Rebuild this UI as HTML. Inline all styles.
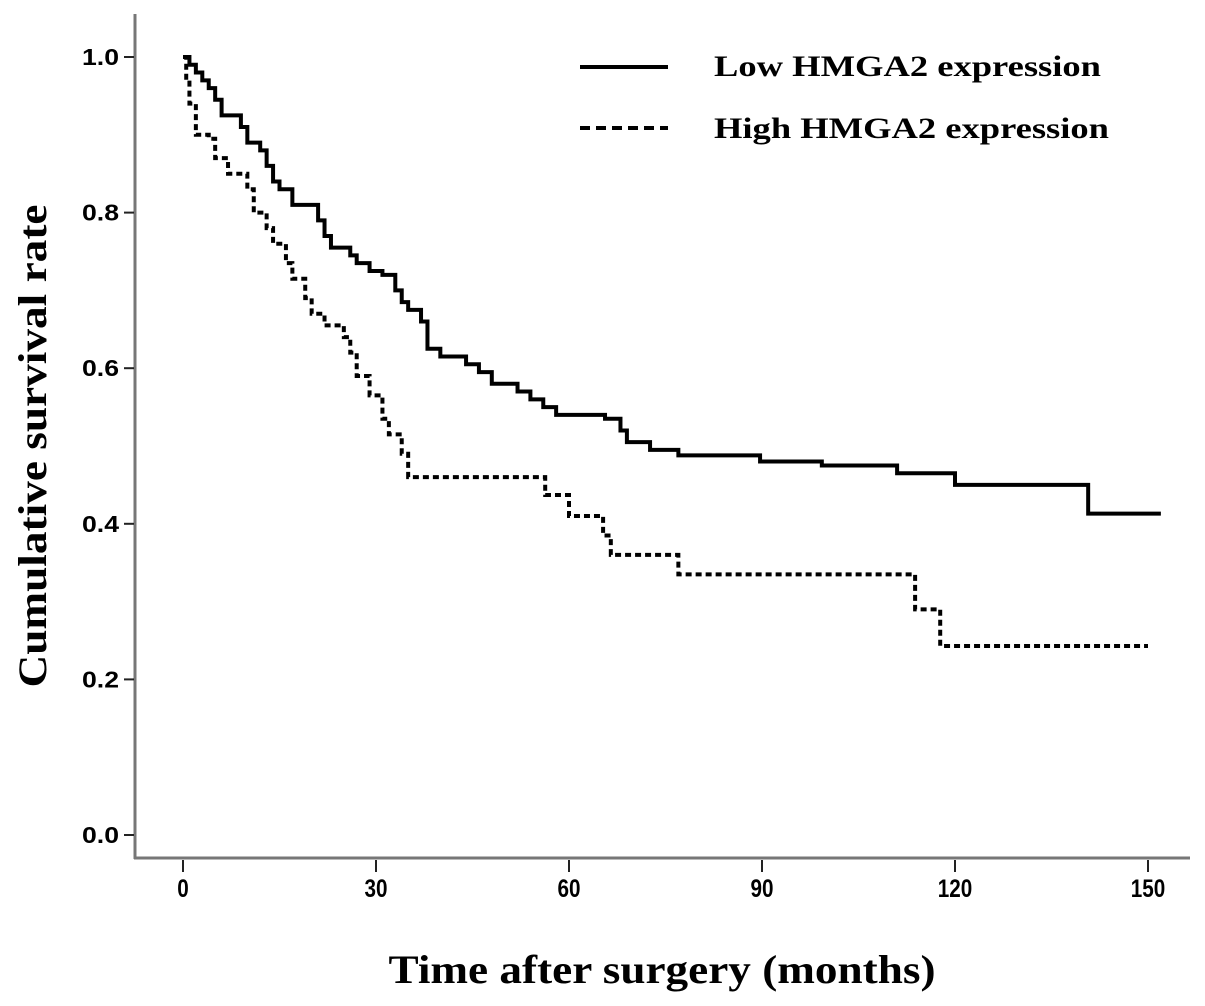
<!DOCTYPE html>
<html><head><meta charset="utf-8"><style>
body{margin:0;background:#fff}
svg{display:block}
</style></head><body>
<svg id="chart" width="1205" height="1006" viewBox="0 0 1205 1006" xmlns="http://www.w3.org/2000/svg">
<g id="axes"></g>
<g id="series"></g>
<g>
<line x1="580" y1="67" x2="668" y2="67" stroke="#000" stroke-width="4"/>
<text x="714" y="76" font-family="Liberation Serif, serif" font-weight="bold" font-size="30" textLength="387" lengthAdjust="spacingAndGlyphs">Low HMGA2 expression</text>
<line x1="580" y1="128" x2="668" y2="128" stroke="#000" stroke-width="4" stroke-dasharray="10,6"/>
<text x="714" y="138" font-family="Liberation Serif, serif" font-weight="bold" font-size="30" textLength="395" lengthAdjust="spacingAndGlyphs">High HMGA2 expression</text>
</g>
<text transform="translate(46,446) rotate(-90)" text-anchor="middle" font-family="Liberation Serif, serif" font-weight="bold" font-size="40" textLength="483" lengthAdjust="spacingAndGlyphs">Cumulative survival rate</text>
<text x="662" y="983" text-anchor="middle" font-family="Liberation Serif, serif" font-weight="bold" font-size="40" textLength="547" lengthAdjust="spacingAndGlyphs">Time after surgery (months)</text>
</svg>
<script>
const xTicks=[0,30,60,90,120,150];
const yTicks=[0.0,0.2,0.4,0.6,0.8,1.0];
const lowT=[0,1,2,3,4,5,6,9,10,12,13,14,15,17,21,22,23,26,27,29,31,33,34,35,37,38,40,44,46,48,52,54,56,58,65.6,68,69,72.6,77,89.7,99.3,111,120,140.7,152];
const lowS=[1.0,0.99,0.98,0.97,0.96,0.945,0.925,0.91,0.89,0.88,0.86,0.84,0.83,0.81,0.79,0.77,0.755,0.745,0.735,0.725,0.72,0.70,0.685,0.675,0.66,0.625,0.615,0.605,0.595,0.58,0.57,0.56,0.55,0.54,0.535,0.52,0.505,0.495,0.488,0.48,0.475,0.465,0.45,0.413,0.413];
const highT=[0,0.5,1,2,4,5,7,10,11,13,14,16,17,19,20,22,25,26,27,29,31,32,34,35,56.3,60,65.3,66.5,77,113.8,117.7,150];
const highS=[1.0,0.97,0.94,0.90,0.895,0.87,0.85,0.83,0.80,0.78,0.76,0.735,0.715,0.69,0.67,0.655,0.64,0.62,0.59,0.565,0.535,0.515,0.49,0.46,0.437,0.41,0.385,0.36,0.335,0.29,0.243,0.243];
const NS='http://www.w3.org/2000/svg';
const X=t=>183+t*(1148-183)/150;
const Y=v=>835-v*(835-57);
const ax=document.getElementById('axes'),se=document.getElementById('series');
function mk(tag,at,parent){const e=document.createElementNS(NS,tag);for(const k in at)e.setAttribute(k,at[k]);parent.appendChild(e);return e;}
let l=mk('line',{x1:135,y1:14,x2:135,y2:859,stroke:'#777','stroke-width':3},ax);


l=mk('line',{x1:134,y1:858,x2:1190,y2:858,stroke:'#777','stroke-width':3},ax);


xTicks.forEach(t=>{
 const tk=mk('line',{x1:X(t),y1:860,x2:X(t),y2:872,stroke:'#222','stroke-width':2},ax);
 
 
 const s=String(t);
 const tx=mk('text',{x:X(t),y:897,'text-anchor':'middle','font-family':'Liberation Sans, sans-serif','font-weight':'bold','font-size':25,textLength:s.length*11.5,lengthAdjust:'spacingAndGlyphs'},ax);
 tx.textContent=s;
 
 
});
yTicks.forEach(v=>{
 const tk=mk('line',{x1:124,y1:Y(v),x2:134,y2:Y(v),stroke:'#222','stroke-width':2},ax);
 
 
 const tx=mk('text',{x:119,y:Y(v)+8,'text-anchor':'end','font-family':'Liberation Sans, sans-serif','font-weight':'bold','font-size':23,textLength:37,lengthAdjust:'spacingAndGlyphs'},ax);
 tx.textContent=v.toFixed(1);
 
 
});
function stepPath(T,S){let d='M'+X(T[0])+','+Y(S[0]);for(let i=1;i<T.length;i++){d+=' H'+X(T[i])+' V'+Y(S[i]);}return d;}
let p=mk('path',{d:stepPath(lowT,lowS),fill:'none',stroke:'#000','stroke-width':4},se);


p=mk('path',{d:stepPath(highT,highS),fill:'none',stroke:'#000','stroke-width':4,'stroke-dasharray':'6,4'},se);


</script>
</body></html>
